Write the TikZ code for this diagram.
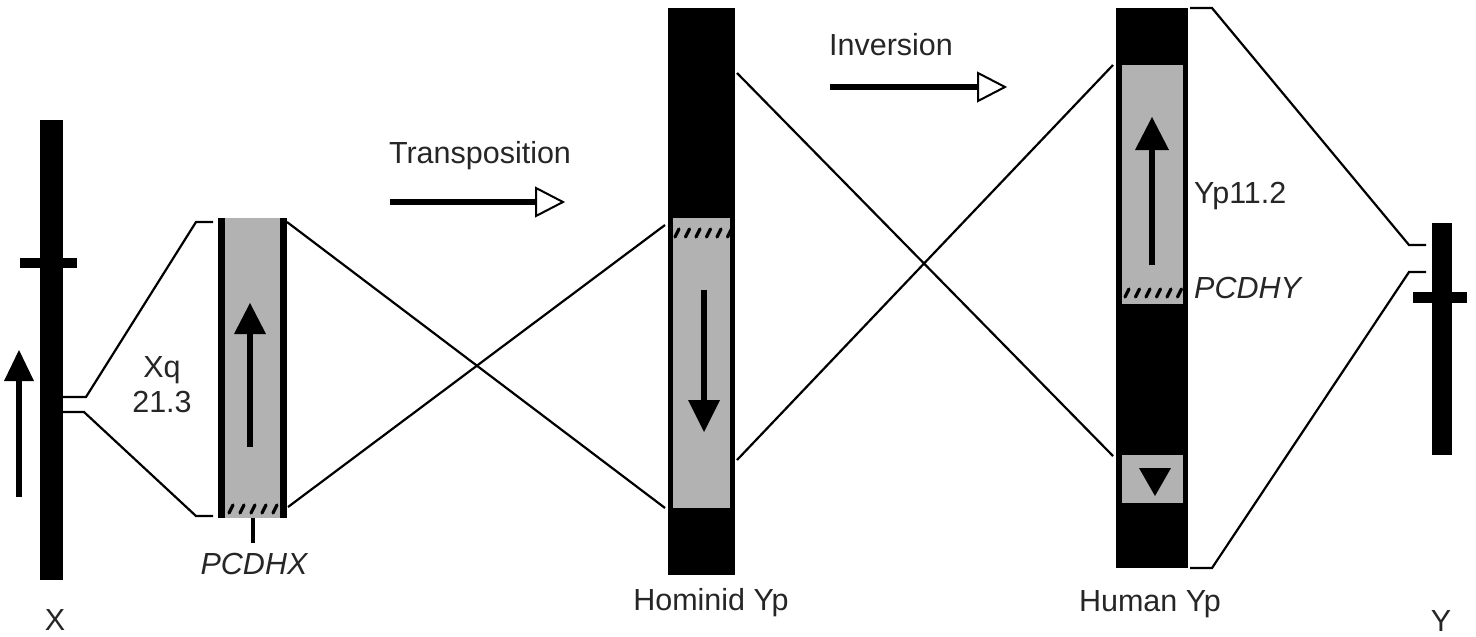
\documentclass[tikz,border=0pt]{standalone}
\usepackage{fontspec}
\setmainfont{Liberation Sans}
\begin{document}
\begin{tikzpicture}[x=1pt,y=-1pt,
  conn/.style={line width=2.2pt, line join=miter},
  bar/.style={fill=black, draw=none},
  region/.style={fill=black!30, draw=none},
  shaft/.style={line width=5.5pt},
  head/.style={fill=black, draw=none},
  ohead/.style={fill=white, draw=black, line width=2pt, line join=miter},
  hatch/.style={line width=3.2pt, line cap=round},
  lbl/.style={font=\fontsize{30.5}{34}\selectfont, text=black!85, inner sep=0pt},
  ilbl/.style={font=\fontsize{30.5}{34}\selectfont\itshape, text=black!85, inner sep=0pt}]
\useasboundingbox (0,0) rectangle (1476,637);
\fill[white] (0,0) rectangle (1476,637);

% ---------- X chromosome ----------
\fill[bar] (40,120) rectangle (63,580);
\fill[bar] (20,258) rectangle (77,268);
\draw[shaft] (19,497) -- (19,378);
\fill[head] (4,381) -- (34,381) -- (19,350) -- cycle;
\node[lbl] (xl) at (55,620) {X};

% ---------- Xq21.3 box ----------
\fill[region] (225,218) rectangle (281,518);
\fill[bar] (218,218) rectangle (225,518);
\fill[bar] (280,218) rectangle (287,518);
\draw[shaft] (250,447) -- (250,330);
\fill[head] (234,334) -- (266,334) -- (250,303) -- cycle;
\foreach \i in {0,...,4} \draw[hatch] ({229+\i*11},{513}) -- ({233+\i*11},{505});
\draw[line width=3.5pt] (253,518) -- (253,543);
\node[lbl] (xq) at (162,370) {Xq};
\node[lbl] (xqn) at (162,402) {21.3};
\node[ilbl] (pcdhx) at (254,564) {PCDHX};

\coordinate (xa) at (63,397);
\coordinate (xb) at (63,412);
\coordinate (bt) at (213,222);
\coordinate (bb) at (213,516);
\draw[conn] (xa) -- (86,397) -- (196,222) -- (bt);
\draw[conn] (xb) -- (84,412) -- (196,516) -- (bb);

% ---------- Transposition ----------
\node[lbl] (tr) at (480,156) {Transposition};
\coordinate (ta) at (390,202);
\coordinate (tb) at (536,202);
\draw[shaft] (ta) -- (tb);
\draw[ohead] (536,188) -- (563,202) -- (536,216) -- cycle;

% ---------- Hominid Yp ----------
\fill[bar] (668,8) rectangle (735,575);
\fill[region] (673,218) rectangle (730,508);
\foreach \i in {0,...,5} \draw[hatch] ({675+\i*10.5},{237}) -- ({679+\i*10.5},{229});
\draw[shaft] (704,290) -- (704,405);
\fill[head] (688,400) -- (720,400) -- (704,432) -- cycle;
\node[lbl] (hom) at (711,603) {Hominid Yp};

\coordinate (br1) at (287,222);
\coordinate (br2) at (288,507);
\coordinate (hl1) at (665,225);
\coordinate (hl2) at (665,508);
\draw[conn] (br1) -- (hl2);
\draw[conn] (br2) -- (hl1);

% ---------- Inversion ----------
\node[lbl] (inv) at (891,45) {Inversion};
\coordinate (ia) at (830,87);
\coordinate (ib) at (978,87);
\draw[shaft] (ia) -- (ib);
\draw[ohead] (978,73) -- (1005,87) -- (978,101) -- cycle;

% ---------- Human Yp ----------
\fill[bar] (1116,8) rectangle (1188,568);
\fill[region] (1122,65) rectangle (1183,304);
\fill[region] (1122,455) rectangle (1183,503);
\draw[shaft] (1152,265) -- (1152,145);
\fill[head] (1135,150) -- (1169,150) -- (1152,117) -- cycle;
\fill[head] (1139,468) -- (1171,468) -- (1155,496) -- cycle;
\foreach \i in {0,...,5} \draw[hatch] ({1125+\i*10.5},{297}) -- ({1129+\i*10.5},{289});
\node[lbl, anchor=west] (yp) at (1194,196) {Yp11.2};
\node[ilbl, anchor=west] (pcdhy) at (1194,288) {PCDHY};
\node[lbl] (hum) at (1150,604) {Human Yp};

\coordinate (hr1) at (737,73);
\coordinate (hr2) at (737,460);
\coordinate (ul1) at (1113,65);
\coordinate (ul2) at (1113,456);
\draw[conn] (hr1) -- (ul2);
\draw[conn] (hr2) -- (ul1);

% ---------- Y chromosome ----------
\fill[bar] (1432,223) rectangle (1452,455);
\fill[bar] (1413,292) rectangle (1467,303);
\node[lbl] (yl) at (1441,621) {Y};

\coordinate (ut) at (1190,8);
\coordinate (ub) at (1190,568);
\coordinate (yt) at (1426,245);
\coordinate (yb) at (1426,272);
\draw[conn] (ut) -- (1212,8) -- (1409,245) -- (yt);
\draw[conn] (ub) -- (1212,568) -- (1409,272) -- (yb);
\end{tikzpicture}
\end{document}
